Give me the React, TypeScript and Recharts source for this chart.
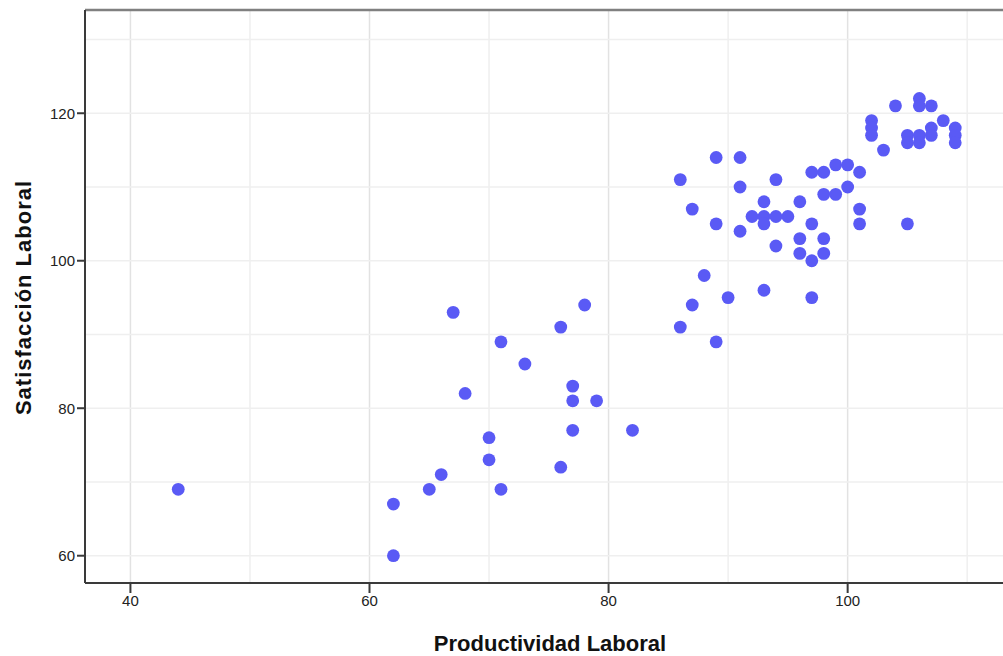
import { ScatterChart, Scatter, XAxis, YAxis, ReferenceLine, Label } from 'recharts';

// Productividad Laboral (x) and Satisfacción Laboral (y), one entry per case
const productividad = [
  44, 62, 62, 65, 66, 67, 68, 70, 70, 71, 71, 73, 76, 76, 77, 77, 77, 78, 79, 82,
  86, 86, 87, 87, 88, 89, 89, 89, 90, 91, 91, 91, 92, 93, 93, 93, 93, 94, 94, 94,
  95, 96, 96, 96, 97, 97, 97, 97, 98, 98, 98, 98, 99, 99, 100, 100, 101, 101, 101,
  102, 102, 102, 103, 104, 105, 105, 105, 106, 106, 106, 106, 107, 107, 107, 108,
  109, 109, 109,
];
const satisfaccion = [
  69, 67, 60, 69, 71, 93, 82, 76, 73, 89, 69, 86, 91, 72, 83, 81, 77, 94, 81, 77,
  111, 91, 107, 94, 98, 114, 105, 89, 95, 114, 110, 104, 106, 108, 106, 105, 96, 111, 106, 102,
  106, 108, 103, 101, 112, 105, 100, 95, 112, 109, 103, 101, 113, 109, 113, 110, 112, 107, 105,
  119, 118, 117, 115, 121, 117, 116, 105, 122, 121, 117, 116, 121, 118, 117, 119,
  118, 117, 116,
];

const xTicks = [40, 60, 80, 100];
const yTicks = [60, 80, 100, 120];
const xGrid = [40, 50, 60, 70, 80, 90, 100, 110];
const yGrid = [60, 70, 80, 90, 100, 110, 120, 130];

const data = productividad.map((x, i) => ({ x, y: satisfaccion[i] }));

const FONT = '"Liberation Sans", Arial, sans-serif';
const DOT = '#5a5af5';

const Dot = (props: any) => <circle cx={props.cx} cy={props.cy} r={6.4} fill={DOT} />;

export default function App() {
  return (
    <div style={{ position: 'absolute', left: 0, top: 0, width: 1003, height: 656, overflow: 'hidden', background: '#fff' }}>
      <ScatterChart width={1020} height={656} margin={{ top: 10, right: 5, bottom: 0, left: 0 }}>
        {xGrid.map((v) => (
          <ReferenceLine key={`gx${v}`} x={v} stroke={v % 20 === 0 ? '#e2e2e2' : '#efefef'} strokeWidth={1.5} />
        ))}
        {yGrid.map((v) => (
          <ReferenceLine key={`gy${v}`} y={v} stroke="#efefef" strokeWidth={1.5} />
        ))}
        <ReferenceLine y={134} stroke="#808080" strokeWidth={2.5} />
        <XAxis
          type="number"
          dataKey="x"
          domain={[36.2, 114]}
          ticks={xTicks}
          allowDataOverflow
          height={73}
          tickSize={10}
          axisLine={{ stroke: '#3a3a3a', strokeWidth: 2 }}
          tickLine={{ stroke: '#3a3a3a', strokeWidth: 2 }}
          tick={{ fill: '#222', fontSize: 15, fontFamily: FONT }}
        >
          <Label
            content={({ viewBox }: any) => (
              <text x={viewBox.x + viewBox.width / 2} y={651} textAnchor="middle" fontFamily={FONT} fontWeight="bold" fontSize={22} fill="#111">
                Productividad Laboral
              </text>
            )}
          />
        </XAxis>
        <YAxis
          type="number"
          dataKey="y"
          domain={[56.3, 134]}
          ticks={yTicks}
          allowDataOverflow
          width={85}
          tickSize={8}
          axisLine={{ stroke: '#3a3a3a', strokeWidth: 2 }}
          tickLine={{ stroke: '#3a3a3a', strokeWidth: 2 }}
          tick={{ fill: '#222', fontSize: 15, fontFamily: FONT }}
        >
          <Label
            content={({ viewBox }: any) => {
              const cy = viewBox.y + viewBox.height / 2 + 1;
              return (
                <text x={23} y={cy} transform={`rotate(-90 23 ${cy})`} textAnchor="middle" dominantBaseline="central" fontFamily={FONT} fontWeight="bold" fontSize={22} letterSpacing={1} fill="#111">
                  Satisfacción Laboral
                </text>
              );
            }}
          />
        </YAxis>
        <Scatter data={data} shape={Dot} isAnimationActive={false} />
      </ScatterChart>
    </div>
  );
}
